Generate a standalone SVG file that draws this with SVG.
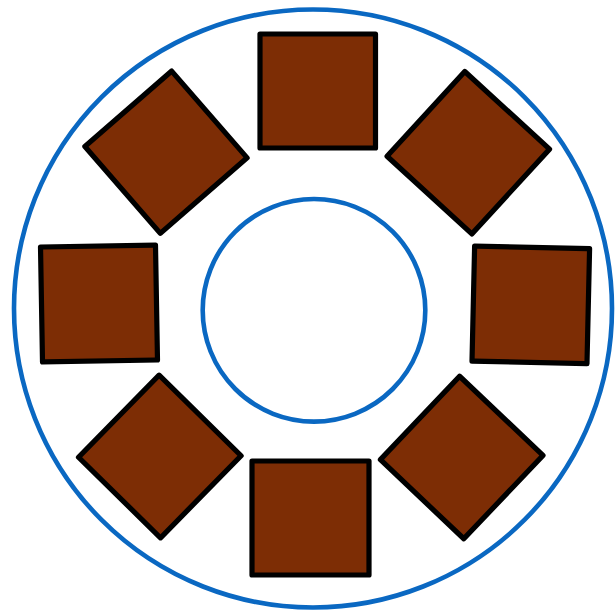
<svg xmlns="http://www.w3.org/2000/svg" width="615" height="612" viewBox="0 0 615 612">
<style>
.ring{fill:none;stroke:#0a68c2;stroke-width:4.6}
.blk{fill:#7d2d05;stroke:#000;stroke-width:5.2;stroke-linejoin:round}
</style>
<defs>
<rect id="sq" x="-57.5" y="-57.5" width="115" height="115"/>
</defs>
<rect width="615" height="612" fill="#fff"/>
<g id="outer-ring"><circle class="ring" cx="313" cy="308.5" r="299"/></g>
<g id="inner-ring"><circle class="ring" cx="314" cy="310.3" r="111.3"/></g>
<g id="block-top"><rect class="blk" x="260" y="34" width="115.5" height="114"/></g>
<g id="block-top-right"><use href="#sq" class="blk" transform="translate(468.3,152.7) rotate(42.5)"/></g>
<g id="block-right"><use href="#sq" class="blk" transform="translate(530.8,304.9) rotate(1.3)"/></g>
<g id="block-bottom-right"><use href="#sq" class="blk" transform="translate(461.7,457.5) rotate(43.5)"/></g>
<g id="block-bottom"><rect class="blk" x="252" y="461" width="117" height="114"/></g>
<g id="block-bottom-left"><use href="#sq" class="blk" transform="translate(159.8,456.5) rotate(44.5)"/></g>
<g id="block-left"><use href="#sq" class="blk" transform="translate(99,303.5) rotate(-1)"/></g>
<g id="block-top-left"><use href="#sq" class="blk" transform="translate(166,152.2) rotate(49)"/></g>
</svg>
